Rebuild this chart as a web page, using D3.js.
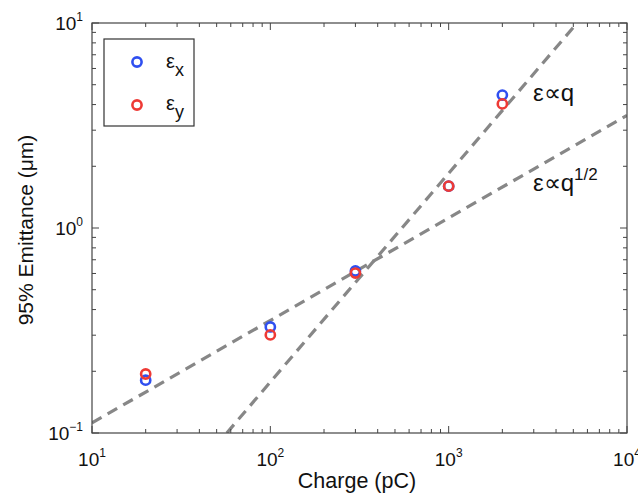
<!DOCTYPE html>
<html>
<head>
<meta charset="utf-8">
<script src="https://cdn.jsdelivr.net/npm/d3@7"></script>
<style>
body{margin:0;background:#fff;overflow:hidden;}
text{font-family:"Liberation Sans",Arial,Helvetica,sans-serif;fill:#111;}
</style>
</head>
<body>
<div id="chart"></div>
<script>
// charges (pC) and measured emittances
var charge = [20, 100, 300, 1000, 2000];
var emitX = [0.181, 0.329, 0.617, 1.60, 4.45];
var emitY = [0.194, 0.301, 0.603, 1.60, 4.03];

// guide lines, end points
var lineLinear = [[57, 0.1], [5250, 10]];
var lineSqrt = [[10, 0.112], [10000, 3.54]];

var xDecades = [1, 2, 3, 4];
var yDecades = [-1, 0, 1];

var width = 638, height = 497,
	pLeft = 92, pRight = 627, pTop = 23, pBottom = 433;

var svg = d3.select("#chart").append("svg").attr("width", width).attr("height", height);

var x = d3.scaleLog().domain([10, 10000]).range([pLeft, pRight]);
var y = d3.scaleLog().domain([0.1, 10]).range([pBottom, pTop]);

// clip for dashed lines
svg.append("clipPath").attr("id", "clip").append("rect")
	.attr("x", pLeft).attr("y", pTop).attr("width", pRight - pLeft).attr("height", pBottom - pTop);

var line = d3.line().x(function(d){return x(d[0]);}).y(function(d){return y(d[1]);});
[lineLinear, lineSqrt].forEach(function(l){
	svg.append("path").attr("d", line(l))
		.attr("clip-path", "url(#clip)")
		.attr("fill", "none").attr("stroke", "#878787").attr("stroke-width", 3.2)
		.attr("stroke-dasharray", "11,7");
});

//ticks on all four sides, pointing in
var ax = svg.append("g").attr("stroke", "#444").attr("stroke-width", 1);
x.ticks().forEach(function(t){
	var major = Math.abs(Math.log10(t) - Math.round(Math.log10(t))) < 1e-9;
	var len = major ? 7 : 4;
	ax.append("line").attr("x1", x(t)).attr("x2", x(t)).attr("y1", pBottom).attr("y2", pBottom - len);
	ax.append("line").attr("x1", x(t)).attr("x2", x(t)).attr("y1", pTop).attr("y2", pTop + len);
});
y.ticks().forEach(function(t){
	var major = Math.abs(Math.log10(t) - Math.round(Math.log10(t))) < 1e-9;
	var len = major ? 7 : 4;
	ax.append("line").attr("y1", y(t)).attr("y2", y(t)).attr("x1", pLeft).attr("x2", pLeft + len);
	ax.append("line").attr("y1", y(t)).attr("y2", y(t)).attr("x1", pRight).attr("x2", pRight - len);
});
svg.append("rect").attr("x", pLeft).attr("y", pTop).attr("width", pRight - pLeft).attr("height", pBottom - pTop)
	.attr("fill", "none").attr("stroke", "#444").attr("stroke-width", 1.2);

// tick labels
xDecades.forEach(function(e){
	var t = svg.append("text").attr("x", x(Math.pow(10, e))).attr("y", 466)
		.attr("text-anchor", "middle").attr("font-size", 19);
	t.append("tspan").text("10");
	t.append("tspan").attr("dy", -9).attr("font-size", 12).text(e);
});
yDecades.forEach(function(e){
	var t = svg.append("text").attr("x", 83).attr("y", y(Math.pow(10, e)) + 7)
		.attr("text-anchor", "end").attr("font-size", 19);
	t.append("tspan").text("10");
	t.append("tspan").attr("dy", -9).attr("font-size", 12).text(e < 0 ? "\u2212" + (-e) : e);
});

svg.append("text").attr("x", 357).attr("y", 488).attr("text-anchor", "middle")
	.attr("font-size", 21.5).text("Charge (pC)");
svg.append("text").attr("transform", "translate(33,230) rotate(-90)")
	.attr("text-anchor", "middle").attr("font-size", 21).text("95% Emittance (\u03bcm)");

// markers
var blue = "#2f4ff0", red = "#ee3a35";
svg.selectAll("circle.ex").data(charge).enter().append("circle").attr("class", "ex")
	.attr("cx", function(d){return x(d);}).attr("cy", function(d, i){return y(emitX[i]);})
	.attr("r", 4.6).attr("fill", "none").attr("stroke", blue).attr("stroke-width", 2.6);
svg.selectAll("circle.ey").data(charge).enter().append("circle").attr("class", "ey")
	.attr("cx", function(d){return x(d);}).attr("cy", function(d, i){return y(emitY[i]);})
	.attr("r", 4.6).attr("fill", "none").attr("stroke", red).attr("stroke-width", 2.6);

// line labels
var l1 = svg.append("text").attr("x", 533).attr("y", 101).attr("font-size", 24);
l1.text("\u03b5\u221dq");
var l2 = svg.append("text").attr("x", 533).attr("y", 191).attr("font-size", 24);
l2.append("tspan").text("\u03b5\u221dq");
l2.append("tspan").attr("dy", -11).attr("font-size", 17).text("1/2");

// legend
svg.append("rect").attr("x", 104).attr("y", 39).attr("width", 90).attr("height", 87)
	.attr("fill", "#fff").attr("stroke", "#333").attr("stroke-width", 1.2);
[["x", blue, 62, 68], ["y", red, 105, 110]].forEach(function(d){
	svg.append("circle").attr("cx", 137).attr("cy", d[2]).attr("r", 4.6)
		.attr("fill", "none").attr("stroke", d[1]).attr("stroke-width", 2.6);
	var t = svg.append("text").attr("x", 166).attr("y", d[3]).attr("font-size", 20);
	t.append("tspan").text("\u03b5");
	t.append("tspan").attr("dy", 8).attr("font-size", 18).text(d[0]);
});
</script>
</body>
</html>
